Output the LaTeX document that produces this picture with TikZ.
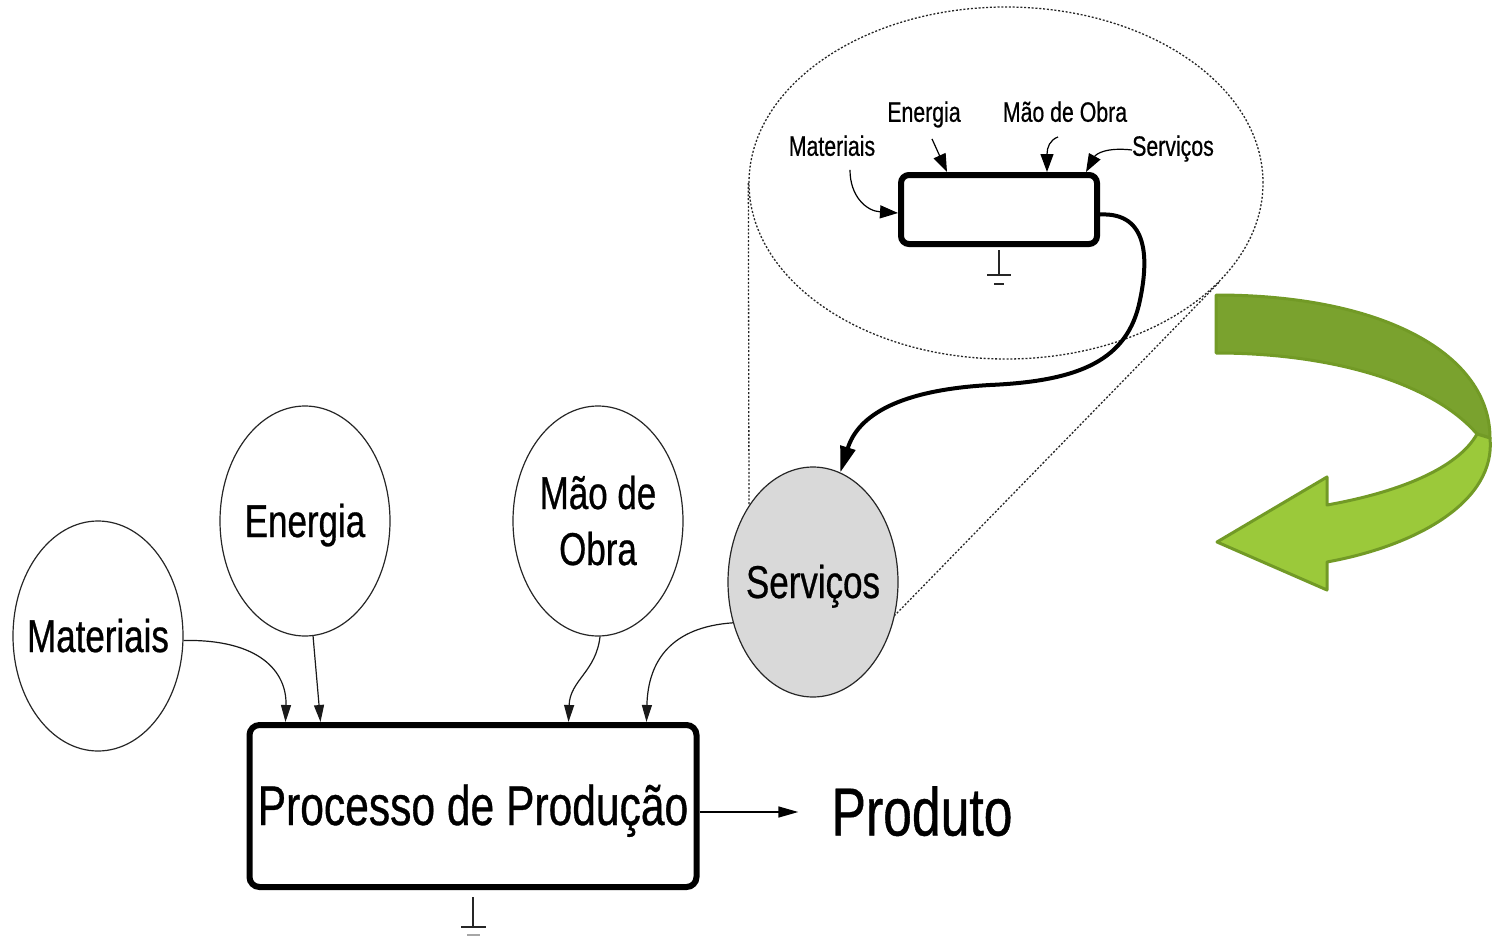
\documentclass[tikz,border=0pt]{standalone}
\usepackage{fontspec}
\setmainfont{Liberation Sans}
\newfontfamily\cond[FakeStretch=0.76,FakeBold=0.6]{Liberation Sans}
\usetikzlibrary{shapes.geometric,arrows.meta}
\definecolor{servgray}{RGB}{217,217,217}
\definecolor{bandDark}{RGB}{122,162,46}
\definecolor{bandLight}{RGB}{155,201,58}
\definecolor{bandEdge}{RGB}{114,154,38}

\begin{document}
\begin{tikzpicture}[x=1pt,y=-1pt,
  source/.style={ellipse, draw=black!85, line width=1.2pt, minimum width=170pt,
    minimum height=230pt, inner sep=0pt},
  sourcetext/.style={inner sep=0pt, align=center,
    font=\cond\fontsize{46}{56}\selectfont, text height=32pt, text depth=0pt},
  procbox/.style={rectangle, draw, line width=6pt, rounded corners=10pt, inner sep=0pt,
    font=\cond\fontsize{56}{60}\selectfont, text height=38pt, text depth=0pt},
  feed/.style={line width=1.2pt, draw=black!90, -{Triangle[length=17pt,width=10pt]}},
  smallfeed/.style={line width=1.2pt, -{Triangle[length=18pt,width=13pt]}},
  smalllabel/.style={inner sep=0pt, font=\cond\fontsize{28}{30}\selectfont,
    text height=19.5pt, text depth=0pt},
  zoomline/.style={line width=1.3pt, draw=black!85, dash pattern=on 2pt off 1.8pt},
  ground/.style={line width=1.4pt, draw=black!85}
]
\useasboundingbox (0,0) rectangle (1492,937);

% ---------- main process ----------
\node[source] (mat) at (98,636) {};
\node[source] (en) at (305,521) {};
\node[source] (mao) at (598,521) {};
\node[source, fill=servgray] (serv) at (813,582) {};

\node[sourcetext] (mat-t) at (mat) {Materiais};
\node[sourcetext] (en-t) at (en) {Energia};
\node[sourcetext, text height=88pt] (mao-t) at (598,521) {Mão de\\Obra};
\node[sourcetext] (serv-t) at (serv) {Serviços};

\node[procbox, minimum width=447pt, minimum height=162pt] (pbox) at (473,806)
  {Processo de Produção};

\node[inner sep=0pt, font=\cond\fontsize{68}{70}\selectfont, text height=47pt,
  text depth=0pt] (prod) at (922,812) {Produto};

\draw[feed] (mat.-3) .. controls (260,639) and (287,672) .. ([xshift=39pt]pbox.north west);
\draw[feed] (en.-86) -- ([xshift=74pt]pbox.north west);
\draw[feed] (mao.-89) .. controls (596,672) and (570,680) .. ([xshift=322pt]pbox.north west);
\draw[feed] (serv.207) .. controls (672,627) and (648,660) .. ([xshift=400pt]pbox.north west);

\draw[line width=1.5pt, -{Triangle[length=20pt,width=11pt]}]
  ([yshift=-6pt]pbox.east) -- ([xshift=-33pt]prod.west);

% ground mark under the process box
\draw[ground] ([yshift=-7pt]pbox.south) -- ++(0,30) coordinate (pg);
\draw[ground] ([xshift=-12pt]pg) -- ([xshift=13pt]pg);
\draw[line width=1.4pt, draw=black!35] ([shift={(-6pt,-8pt)}]pg) -- ([shift={(7pt,-8pt)}]pg);

% ---------- detail view of the service process ----------
\node[ellipse, zoomline, minimum width=514pt, minimum height=352pt, inner sep=0pt]
  (bigE) at (1006,183) {};

\node[rectangle, draw, line width=6pt, rounded corners=8pt, inner sep=0pt,
  minimum width=196pt, minimum height=69pt] (sbox) at (999,209.5) {};

\node[smalllabel] (smat) at (832,146) {Materiais};
\node[smalllabel] (sen) at (924,112) {Energia};
\node[smalllabel] (smao) at (1065,112) {Mão de Obra};
\node[smalllabel] (sserv) at (1173,146) {Serviços};

\draw[smallfeed] ([shift={(18pt,-14pt)}]smat.south) .. controls (850,196) and (866,211) ..
  ([yshift=-3.5pt]sbox.west);
\draw[smallfeed] ([shift={(8pt,-17pt)}]sen.south) -- ([xshift=49pt]sbox.north west);
\draw[smallfeed] ([shift={(-7pt,-15pt)}]smao.south) .. controls (1050,140) and (1047,147) ..
  ([xshift=149pt]sbox.north west);
\draw[smallfeed] ([yshift=-4pt]sserv.west) .. controls (1106,147) and (1096,154) ..
  ([xshift=188pt]sbox.north west);

% ground mark under the small box
\draw[ground] ([yshift=-3pt]sbox.south) -- ++(0,25) coordinate (sg);
\draw[ground] ([xshift=-12pt]sg) -- ([xshift=12pt]sg);
\draw[ground] ([shift={(-5pt,-9pt)}]sg) -- ([shift={(5pt,-9pt)}]sg);

% link from the detail back to the service node
\draw[line width=4pt, -{Triangle[length=26pt,width=15pt]}]
  ([yshift=-5pt]sbox.east) .. controls (1150,212) and (1148,262) .. (1140,300)
  .. controls (1128,360) and (1080,381) .. (990,385)
  .. controls (900,390) and (858,415) .. (serv.76);

% magnifier cone
\draw[zoomline] (bigE.west) -- (749,504) coordinate (coneL);
\draw[zoomline] (bigE.-25.7) -- (serv.-22.6);

% ---------- curved green arrow ----------
\fill[bandDark, draw=bandEdge, line width=3pt, line join=round]
  (1216,295) .. controls (1385,295) and (1490,355) .. (1490,438)
  -- (1477,434) .. controls (1432,382) and (1330,353) .. (1216,353) -- cycle;
\fill[bandLight, draw=bandEdge, line width=3pt, line join=round]
  (1477,434) -- (1490,438) .. controls (1496,500) and (1420,545) .. (1327,562)
  -- (1327,590) -- (1217,542) -- (1327,477) -- (1327,505)
  .. controls (1400,492) and (1458,468) .. (1477,434) -- cycle;
\end{tikzpicture}
\end{document}
